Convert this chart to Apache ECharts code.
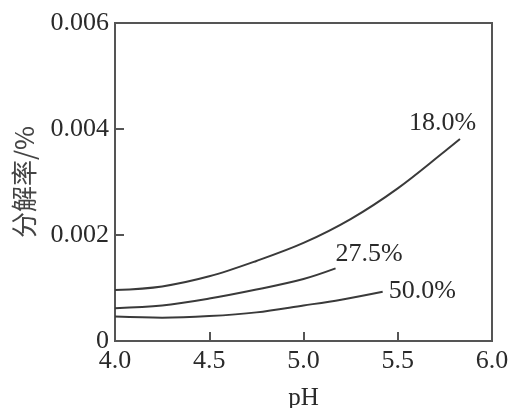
<!DOCTYPE html>
<html>
<head>
<meta charset="utf-8">
<script src="https://cdn.jsdelivr.net/npm/echarts@6/dist/echarts.min.js"></script>
<style>html,body{margin:0;padding:0;background:#fff;}#c{width:512px;height:408px;}</style>
</head>
<body>
<div id="c"></div>
<script>
const seriesNames = ['18.0%', '27.5%', '50.0%'];
const pH18 = [4.0, 4.25, 4.5, 4.75, 5.0, 5.25, 5.5, 5.75, 5.83];
const val18 = [0.00096, 0.00103, 0.00122, 0.00151, 0.00185, 0.00230, 0.00288, 0.00358, 0.00381];
const pH27 = [4.0, 4.25, 4.5, 4.75, 5.0, 5.17];
const val27 = [0.00062, 0.00067, 0.00080, 0.00097, 0.00117, 0.00137];
const pH50 = [4.0, 4.25, 4.5, 4.75, 5.0, 5.2, 5.42];
const val50 = [0.00046, 0.00044, 0.00047, 0.00054, 0.00067, 0.00078, 0.00093];
const xTicks = ['4.0', '4.5', '5.0', '5.5', '6.0'];
const yTicks = ['0', '0.002', '0.004', '0.006'];

const serif = '"Liberation Serif", "Times New Roman", serif';
const ink = '#2a2a2a';
const lineCol = '#3a3a3a';
const pairs = (xs, ys) => xs.map((x, i) => [x, ys[i]]);
const labelOffsets = [[-59, -16], [-8, -14], [-2, -1]];
const datasets = [pairs(pH18, val18), pairs(pH27, val27), pairs(pH50, val50)];

const chart = echarts.init(document.getElementById('c'), null, {renderer: 'canvas'});
chart.setOption({
  animation: false,
  backgroundColor: '#fff',
  grid: {left: 115, right: 20, top: 23, bottom: 67, outerBoundsMode: 'none', containLabel: false,
    show: true, borderColor: '#555', borderWidth: 2, backgroundColor: 'transparent'},
  xAxis: {
    type: 'value', min: 4.0, max: 6.0, interval: 0.5,
    name: 'pH', nameLocation: 'middle', nameGap: 45,
    nameTextStyle: {fontFamily: serif, fontSize: 25, color: ink},
    axisLine: {show: true, lineStyle: {color: '#555', width: 2}},
    axisTick: {show: true, inside: true, length: 9, lineStyle: {color: '#555', width: 2}},
    axisLabel: {fontFamily: serif, fontSize: 26, color: ink, margin: 7,
      formatter: v => xTicks.find(t => Math.abs(parseFloat(t) - v) < 1e-9) || ''},
    splitLine: {show: false}
  },
  yAxis: {
    type: 'value', min: 0, max: 0.006, interval: 0.002,
    name: '分解率/%', nameLocation: 'middle', nameGap: 78, nameRotate: 90,
    nameTextStyle: {fontFamily: '"Noto Sans CJK SC", sans-serif', fontSize: 26, color: '#444'},
    axisLine: {show: true, lineStyle: {color: '#555', width: 2}},
    axisTick: {show: true, inside: true, length: 9, lineStyle: {color: '#555', width: 2}},
    axisLabel: {fontFamily: serif, fontSize: 26, color: ink, margin: 6,
      formatter: v => yTicks.find(t => Math.abs(parseFloat(t) - v) < 1e-12) || ''},
    splitLine: {show: false}
  },
  series: datasets.map((d, i) => ({
    type: 'line', name: seriesNames[i], data: d, smooth: 0.35,
    showSymbol: false, symbol: 'none',
    lineStyle: {color: lineCol, width: 2},
    endLabel: {show: true, formatter: seriesNames[i], fontFamily: serif, fontSize: 26, color: ink,
      offset: labelOffsets[i]}
  }))
});
</script>
</body>
</html>
